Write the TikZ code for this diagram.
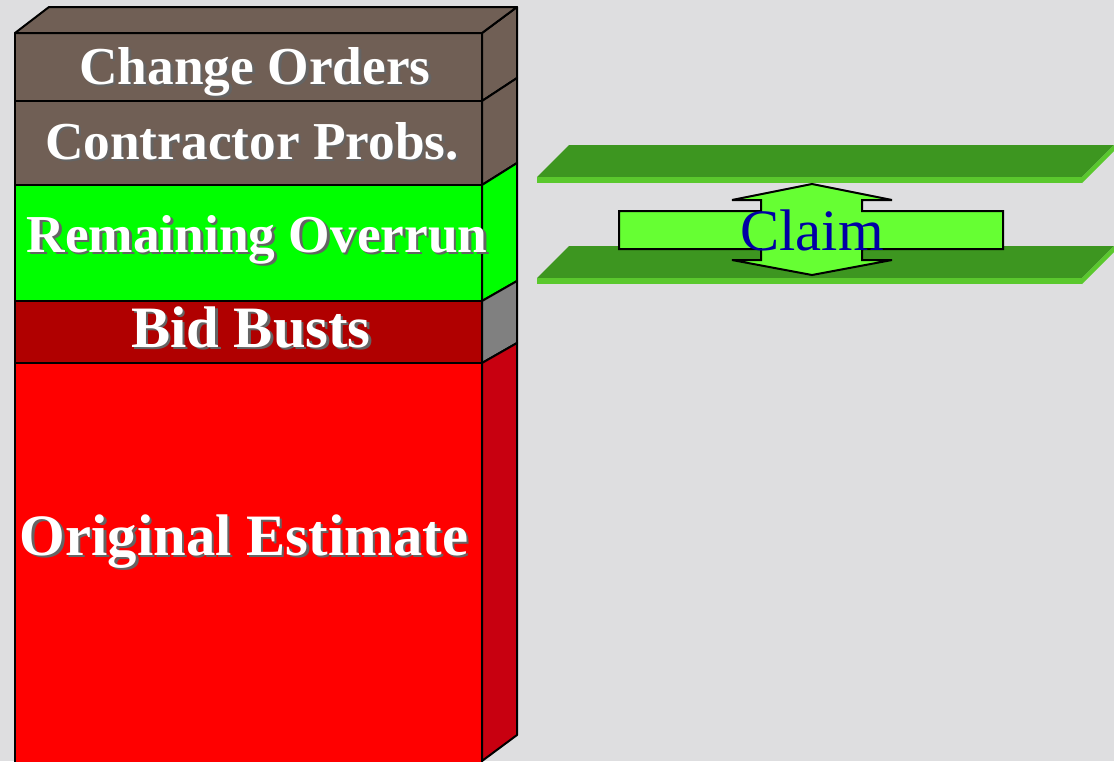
\documentclass[tikz,border=0pt]{standalone}
\usepackage{fontspec}
\setmainfont{Liberation Serif}
\definecolor{bg}{RGB}{222,222,224}
\definecolor{brownc}{RGB}{112,95,85}
\definecolor{greenc}{RGB}{0,255,0}
\definecolor{bidc}{RGB}{176,0,0}
\definecolor{grayside}{RGB}{128,128,128}
\definecolor{redc}{RGB}{255,0,0}
\definecolor{redside}{RGB}{200,0,16}
\definecolor{plate}{RGB}{61,150,32}
\definecolor{plateedge}{RGB}{90,200,45}
\definecolor{claimfill}{RGB}{102,255,51}
\definecolor{claimtext}{RGB}{0,0,165}
\definecolor{shadowc}{RGB}{100,100,100}
\newcommand\shtext[1]{\rlap{\kern1.8pt\raisebox{-1.8pt}{\textcolor{shadowc}{#1}}}#1}
\tikzset{
  face/.style={draw=black, line width=1.5pt, line join=round},
  lblA/.style={font=\rmfamily\fontsize{40}{48}\selectfont\bfseries, text=white, inner sep=0pt, anchor=base},
  lblB/.style={font=\rmfamily\fontsize{44}{52}\selectfont\bfseries, text=white, inner sep=0pt, anchor=base},
  platetop/.style={fill=plate},
  plateside/.style={fill=plateedge},
}
\begin{document}
\begin{tikzpicture}[x=0.75pt,y=-0.75pt]
\useasboundingbox (0,0) rectangle (1114,761);
\fill[bg] (0,0) rectangle (1114,761);
% front faces
\draw[face, fill=brownc] (15,33) rectangle (482,101);
\draw[face, fill=brownc] (15,101) rectangle (482,185);
\draw[face, fill=greenc] (15,185) rectangle (482,301);
\draw[face, fill=bidc] (15,301) rectangle (482,363);
\draw[face, fill=redc] (15,363) rectangle (482,770);
% side faces
\draw[face, fill=brownc] (482,33) -- (517,7) -- (517,78) -- (482,101) -- cycle;
\draw[face, fill=brownc] (482,101) -- (517,78) -- (517,163) -- (482,185) -- cycle;
\draw[face, fill=greenc] (482,185) -- (517,163) -- (517,281) -- (482,301) -- cycle;
\draw[face, fill=grayside] (482,301) -- (517,281) -- (517,343) -- (482,363) -- cycle;
\draw[face, fill=redside] (482,363) -- (517,343) -- (517,735) -- (482,761) -- cycle;
% top
\draw[face, fill=brownc] (15,33) -- (49,7) -- (517,7) -- (482,33) -- cycle;
% labels
\node[lblA] (co) at (255,84) {\shtext{Change Orders}};
\node[lblA] (cp) at (252,159) {\shtext{Contractor Probs.}};
\node[lblA] (ro) at (257,252) {\shtext{Remaining Overrun}};
\node[lblB] (bb) at (251,347) {\shtext{Bid Busts}};
\node[lblB] (oe) at (244,555) {\shtext{Original Estimate}};
% plates
\fill[platetop] (569,145) -- (1114,145) -- (1082,177) -- (537,177) -- cycle;
\fill[plateside] (537,177) -- (1082,177) -- (1082,183) -- (537,183) -- cycle;
\fill[plateside] (1082,177) -- (1114,145) -- (1114,151) -- (1082,183) -- cycle;
\fill[platetop] (569,246) -- (1114,246) -- (1082,278) -- (537,278) -- cycle;
\fill[plateside] (537,278) -- (1082,278) -- (1082,284) -- (537,284) -- cycle;
\fill[plateside] (1082,278) -- (1114,246) -- (1114,252) -- (1082,284) -- cycle;
% claim shape
\draw[fill=claimfill, draw=black, line width=1.5pt, line join=miter]
  (619,211) -- (761,211) -- (761,200) -- (732,200) -- (812,184) -- (892,200)
  -- (862,200) -- (862,211) -- (1003,211) -- (1003,249) -- (862,249) -- (862,260)
  -- (892,260) -- (812,275) -- (732,260) -- (761,260) -- (761,249) -- (619,249) -- cycle;
\node[font=\rmfamily\fontsize{44}{52}\selectfont, text=claimtext, inner sep=0pt, anchor=base] (claim) at (812,250) {Claim};
\end{tikzpicture}
\end{document}
